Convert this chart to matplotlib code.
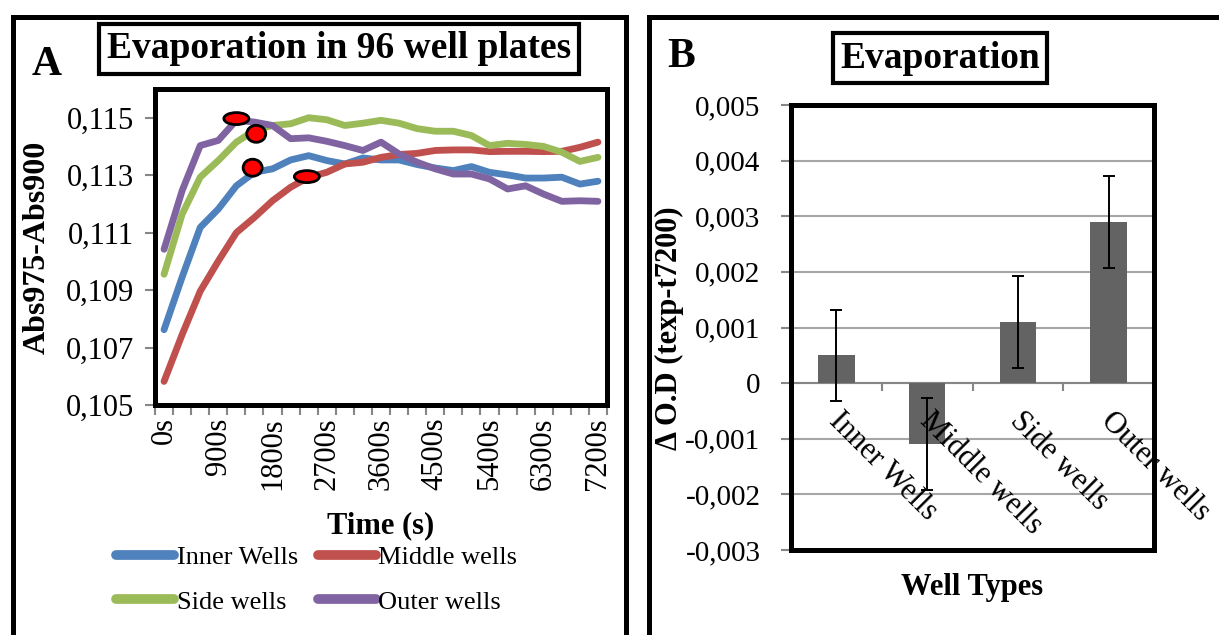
import matplotlib
matplotlib.use('Agg')
import matplotlib.pyplot as plt
import numpy as np
from matplotlib.patches import Rectangle, Ellipse
from matplotlib.lines import Line2D

plt.rcParams['font.family'] = ['Liberation Serif', 'DejaVu Serif']

#Time points, one reading every 300 s for two hours
times = list(range(0, 7201, 300))

#Abs975-Abs900 for each well position
inner = [0.10762, 0.10945, 0.11118, 0.11182, 0.11263, 0.11310, 0.11322, 0.11353, 0.11368, 0.11351,
         0.11339, 0.11360, 0.11353, 0.11353, 0.11337, 0.11325, 0.11316, 0.11330, 0.11310, 0.11301,
         0.11290, 0.11290, 0.11293, 0.11269, 0.11279]
middle = [0.10582, 0.10745, 0.10896, 0.11001, 0.11100, 0.11153, 0.11211, 0.11258, 0.11293, 0.11310,
          0.11339, 0.11345, 0.11362, 0.11372, 0.11376, 0.11386, 0.11388, 0.11388, 0.11382, 0.11383,
          0.11383, 0.11382, 0.11383, 0.11397, 0.11415]
side = [0.10955, 0.11164, 0.11293, 0.11351, 0.11415, 0.11456, 0.11473, 0.11479, 0.11500, 0.11493,
        0.11473, 0.11481, 0.11491, 0.11481, 0.11462, 0.11453, 0.11453, 0.11438, 0.11403, 0.11411,
        0.11407, 0.11400, 0.11380, 0.11348, 0.11362]
outer = [0.11042, 0.11246, 0.11403, 0.11421, 0.11491, 0.11485, 0.11473, 0.11427, 0.11430, 0.11418,
         0.11403, 0.11386, 0.11415, 0.11374, 0.11345, 0.11322, 0.11304, 0.11304, 0.11287, 0.11252,
         0.11263, 0.11234, 0.11209, 0.11211, 0.11209]
series_names = ['Inner Wells', 'Middle wells', 'Side wells', 'Outer wells']

#Highlighted spots on the curves (time index, value)
spot_x = [4.0, 5.1, 4.9, 7.9]
spot_y = [0.11497, 0.11444, 0.11326, 0.11295]

#Change of O.D between start and 7200 s
well_types = ['Inner Wells', 'Middle wells', 'Side wells', 'Outer wells']
delta_od = [0.0005, -0.0011, 0.0011, 0.0029]
delta_err = [0.00082, 0.00083, 0.00083, 0.00083]

colors = ['#4F81BD', '#C0504D', '#9BBB59', '#8064A2']
W, H = 1219, 635
GRAY = '#868686'


def box(l, t, r, b):
  return [l / W, 1 - b / H, (r - l) / W, (b - t) / H]


def comma(v):
  if abs(v) < 1e-12:
    return '0'
  return ('%.3f' % v).replace('.', ',')


fig = plt.figure(figsize=(W / 100, H / 100), dpi=100)

#Panel frames
fig.patches.append(Rectangle((12.5 / W, -0.1), 613.5 / W, 1.1 - 17.5 / H, transform=fig.transFigure,
                             fill=False, ec='black', lw=3.6))
fig.patches.append(Rectangle((648.5 / W, -0.1), 0.5, 1.1 - 17.5 / H, transform=fig.transFigure,
                             fill=False, ec='black', lw=3.6))

#---- Panel A : line chart ----
axA = fig.add_axes(box(155, 89, 607, 405))
x = np.arange(len(times))
for vals, name, col in zip([inner, middle, side, outer], series_names, colors):
  axA.plot(x, vals, color=col, lw=4.9, solid_capstyle='round', solid_joinstyle='round', label=name)

axA.set_xlim(-0.5, len(times) - 0.5)
axA.set_ylim(0.105, 0.116)
yt = np.arange(0.105, 0.1151, 0.002)
axA.set_yticks(yt, labels=[comma(v) for v in yt])
axA.set_xticks(np.arange(-0.5, len(times)), labels=[])
axA.set_xticks(x[::3], labels=['%ds' % t for t in times[::3]], minor=True)
axA.tick_params(axis='x', which='major', length=7, width=1.5, color=GRAY)
axA.tick_params(axis='x', which='minor', length=0, labelsize=22, labelrotation=90, pad=9)
axA.tick_params(axis='y', length=7, width=1.5, color=GRAY, labelsize=22, pad=8)
for s in axA.spines.values():
  s.set_visible(False)
axA.add_patch(Rectangle((0, 0), 1, 1, transform=axA.transAxes, fill=False, ec='black', lw=3.6,
                        clip_on=False, zorder=5))

#Red spots marking where the curves level off
px_x = 452 / len(times)
px_y = 316 / 0.011
for sx, sy, (w, h) in zip(spot_x, spot_y, [(25, 12), (19, 17), (19, 17), (25, 12)]):
  axA.add_patch(Ellipse((sx, sy), w / px_x, h / px_y, fc='#FF0000', ec='black', lw=2, zorder=6,
                        clip_on=False))

handles = [Line2D([], [], color=c, lw=7, solid_capstyle='round') for c in colors]
order = [0, 2, 1, 3]
fig.legend([handles[i] for i in order], [series_names[i] for i in order], ncol=2,
           loc='upper left', bbox_to_anchor=(116 / W, 1 - 546 / H), frameon=False, fontsize=19,
           handlelength=2.2, handletextpad=0.1, columnspacing=0.75, labelspacing=0.78,
           borderaxespad=0, borderpad=0)

fig.text(47 / W, 1 - 65 / H, 'A', fontsize=30, weight='bold', ha='center', va='center')
fig.text(339 / W, 1 - 49 / H, 'Evaporation in 96 well plates', fontsize=27, weight='bold',
         ha='center', va='center',
         bbox=dict(boxstyle='square,pad=0.2', fc='white', ec='black', lw=3))
fig.text(37 / W, 1 - 247 / H, 'Abs975-Abs900', rotation=90, fontsize=23, weight='bold',
         ha='center', va='center')
fig.text(381 / W, 1 - 526 / H, 'Time (s)', fontsize=22, weight='bold', ha='center', va='center')

#---- Panel B : bar chart ----
axB = fig.add_axes(box(791, 105, 1154, 550))
pos = np.arange(len(well_types))
axB.bar(pos, delta_od, width=0.4, color='#636363', zorder=3, yerr=delta_err, capsize=4.5,
        error_kw=dict(elinewidth=1.4, capthick=1.4, ecolor='black', zorder=4))
axB.set_xlim(-0.5, len(well_types) - 0.5)
axB.set_ylim(-0.003, 0.005)
ytb = np.arange(-0.003, 0.00501, 0.001)
axB.set_yticks(ytb, labels=[comma(v) for v in ytb])
axB.set_xticks(np.arange(0.5, len(well_types)), labels=[])
axB.yaxis.grid(True, color='#A6A6A6', lw=1.5)
axB.set_axisbelow(True)
axB.spines['top'].set_visible(False)
axB.spines['right'].set_visible(False)
axB.spines['bottom'].set_position(('data', 0))
axB.spines['bottom'].set_color(GRAY)
axB.spines['bottom'].set_linewidth(1.5)
axB.spines['left'].set_color(GRAY)
axB.spines['left'].set_linewidth(1.5)
axB.tick_params(axis='x', length=6, width=1.5, color=GRAY)
axB.tick_params(axis='y', length=7, width=1.5, color=GRAY, labelsize=21, pad=15)
axB.add_patch(Rectangle((0, 0), 1, 1, transform=axB.transAxes, fill=False, ec='black', lw=3.6,
                        clip_on=False, zorder=5))

#Slanted category names hanging from the zero line
for p, name in zip(pos, well_types):
  axB.annotate(name, xy=(p, 0), xytext=(5, -17), textcoords='offset points', rotation=-45,
               rotation_mode='anchor', ha='left', va='top', fontsize=22, annotation_clip=False,
               zorder=6)

fig.text(681 / W, 1 - 57 / H, 'B', fontsize=30, weight='bold', ha='center', va='center')
fig.text(940 / W, 1 - 58 / H, 'Evaporation', fontsize=27, weight='bold', ha='center', va='center',
         bbox=dict(boxstyle='square,pad=0.2', fc='white', ec='black', lw=3))
fig.text(669 / W, 1 - 328 / H, '\u0394 O.D (texp-t7200)', rotation=90, fontsize=22, weight='bold',
         ha='center', va='center')
fig.text(972 / W, 1 - 588 / H, 'Well Types', fontsize=22, weight='bold', ha='center', va='center')

fig.savefig('out.png', dpi=100)
